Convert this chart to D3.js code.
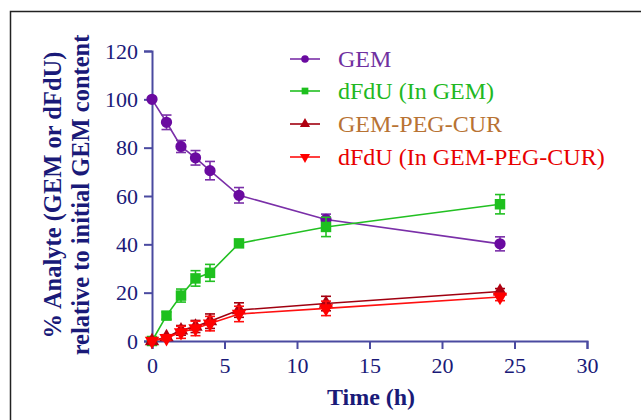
<!DOCTYPE html>
<html>
<head>
<meta charset="utf-8">
<script src="https://cdn.jsdelivr.net/npm/d3@7"></script>
<style>
  body { margin: 0; background: #fff; }
  text { font-family: "Liberation Serif", "Times New Roman", serif; }
</style>
</head>
<body>
<div id="chart"></div>
<script>
// Data
const times = [0, 1, 2, 3, 4, 6, 12, 24];
const gem = [100, 90.5, 80.5, 75.8, 70.5, 60.3, 50.3, 40.2];
const gemErr = [0, 3, 2.5, 3, 3.8, 3.2, 2.2, 2.9];
const dfduGem = [0, 10.5, 18.8, 25.9, 28.2, 40.4, 47.2, 56.6];
const dfduGemErr = [0, 1.5, 2.7, 3.2, 3.5, 1, 4, 4];
const gemPeg = [0, 1.6, 4.4, 6, 8.2, 12.8, 15.5, 20.5];
const gemPegErr = [0, 1, 2, 2.5, 3, 3, 3, 1.2];
const dfduPeg = [0, 1.2, 3.6, 5.2, 7.2, 11.2, 13.5, 18.2];
const dfduPegErr = [0, 1, 2.5, 3, 3, 3.2, 3, 1.5];
const xTicks = [0, 5, 10, 15, 20, 25, 30];
const yTicks = [0, 20, 40, 60, 80, 100, 120];

const series = [
  { name: "GEM", values: gem, err: gemErr, line: "#7a2fa8", fill: "#6a0aa0", text: "#7030a0", shape: d3.symbolCircle },
  { name: "dFdU (In GEM)", values: dfduGem, err: dfduGemErr, line: "#22c022", fill: "#1ec01e", text: "#22b822", shape: d3.symbolSquare },
  { name: "GEM-PEG-CUR", values: gemPeg, err: gemPegErr, line: "#a00010", fill: "#b00010", text: "#b87333", shape: d3.symbolTriangle },
  { name: "dFdU (In GEM-PEG-CUR)", values: dfduPeg, err: dfduPegErr, line: "#ff1010", fill: "#ff0000", text: "#e80000", shape: "down" }
];

const width = 641, height = 420;
const axisColor = "#4a4aa0";
const labelColor = "#1a1a78";

const svg = d3.select("#chart").append("svg")
  .attr("width", width)
  .attr("height", height);

// frame
svg.append("rect")
  .attr("x", 10.5).attr("y", 11.5)
  .attr("width", 660).attr("height", 440)
  .attr("fill", "none").attr("stroke", "#222").attr("stroke-width", 1.5);

const x = d3.scaleLinear().domain([0, 30]).range([152, 587]);
const y = d3.scaleLinear().domain([0, 120]).range([341, 51]);

// axes
const xAxis = svg.append("g")
  .attr("transform", "translate(0," + y(0) + ")")
  .call(d3.axisBottom(x).tickValues(xTicks).tickSize(8).tickPadding(6));
const yAxis = svg.append("g")
  .attr("transform", "translate(" + x(0) + ",0)")
  .call(d3.axisLeft(y).tickValues(yTicks).tickSize(8).tickPadding(6));

[xAxis, yAxis].forEach(a => {
  a.select(".domain").attr("stroke", axisColor).attr("stroke-width", 2);
  a.selectAll(".tick line").attr("stroke", axisColor).attr("stroke-width", 2);
  a.selectAll(".tick text")
    .attr("fill", labelColor)
    .style("font-family", "'Liberation Serif', serif")
    .style("font-size", "22px");
});
xAxis.selectAll(".tick text").attr("dy", "0.8em");

// axis titles
svg.append("text")
  .attr("x", 371).attr("y", 405)
  .attr("text-anchor", "middle")
  .attr("fill", labelColor)
  .style("font-size", "24px").style("font-weight", "bold")
  .text("Time (h)");

const yTitle = svg.append("g").attr("transform", "translate(0,195) rotate(-90)");
yTitle.append("text")
  .attr("x", 0).attr("y", 61)
  .attr("text-anchor", "middle")
  .attr("fill", labelColor)
  .style("font-size", "24.5px").style("font-weight", "bold")
  .text("% Analyte (GEM or dFdU)");
yTitle.append("text")
  .attr("x", 0).attr("y", 89)
  .attr("text-anchor", "middle")
  .attr("fill", labelColor)
  .style("font-size", "24.5px").style("font-weight", "bold")
  .text("relative to initial GEM content");

// symbol helper
function symPath(shape, size) {
  if (shape === "down") {
    return d3.symbol().type(d3.symbolTriangle).size(size)();
  }
  return d3.symbol().type(shape).size(size)();
}
function symTransform(shape, px, py) {
  return "translate(" + px + "," + py + ")" + (shape === "down" ? " rotate(180)" : "");
}

const line = d3.line()
  .x(d => x(d[0]))
  .y(d => y(d[1]));

// lines, error bars, markers
series.forEach(s => {
  const pts = times.map((t, i) => [t, s.values[i], s.err[i]]);
  const g = svg.append("g");

  g.append("path")
    .datum(pts)
    .attr("d", line)
    .attr("fill", "none")
    .attr("stroke", s.line)
    .attr("stroke-width", 1.6);

  const eb = g.selectAll(".eb")
    .data(pts.filter(d => d[2] > 0))
    .enter().append("g");
  eb.append("line")
    .attr("x1", d => x(d[0])).attr("x2", d => x(d[0]))
    .attr("y1", d => y(d[1] + d[2])).attr("y2", d => y(d[1] - d[2]))
    .attr("stroke", s.line).attr("stroke-width", 1.6);
  [1, -1].forEach(sign => {
    eb.append("line")
      .attr("x1", d => x(d[0]) - 5).attr("x2", d => x(d[0]) + 5)
      .attr("y1", d => y(d[1] + sign * d[2])).attr("y2", d => y(d[1] + sign * d[2]))
      .attr("stroke", s.line).attr("stroke-width", 1.6);
  });

  g.selectAll(".m")
    .data(pts)
    .enter().append("path")
    .attr("d", symPath(s.shape, s.shape === d3.symbolSquare ? 110 : (s.shape === d3.symbolCircle ? 100 : 90)))
    .attr("transform", d => symTransform(s.shape, x(d[0]), y(d[1])))
    .attr("fill", s.fill);
});

// legend
const legend = svg.append("g");
const rowY = [59, 91, 124, 157];
series.forEach((s, i) => {
  const ly = rowY[i];
  legend.append("line")
    .attr("x1", 290).attr("x2", 320)
    .attr("y1", ly).attr("y2", ly)
    .attr("stroke", s.line).attr("stroke-width", 1.6);
  legend.append("path")
    .attr("d", symPath(s.shape, 45))
    .attr("transform", symTransform(s.shape, 305, ly))
    .attr("fill", s.fill);
  legend.append("text")
    .attr("x", 338).attr("y", ly)
    .attr("dy", "0.35em")
    .attr("fill", s.text)
    .style("font-size", "24px")
    .text(s.name);
});
</script>
</body>
</html>
